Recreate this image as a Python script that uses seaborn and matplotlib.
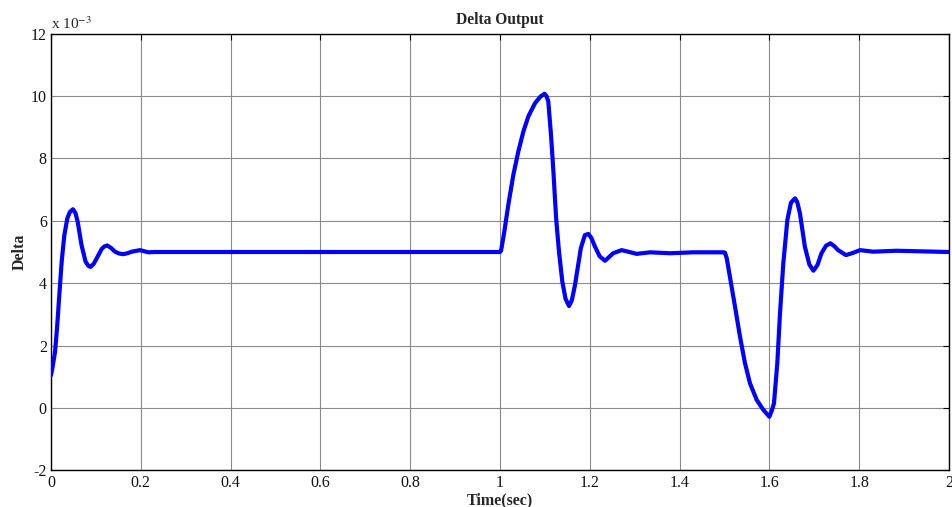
import matplotlib
matplotlib.use("Agg")
import matplotlib.pyplot as plt
import seaborn as sns
import pandas as pd

# Rotor angle deviation (x 10^-3) versus time in seconds
time_s = [
    0.000, 0.003, 0.009, 0.0134, 0.0185, 0.0238, 0.0297, 0.0364, 0.0423, 0.049,
    0.0545, 0.0594, 0.068, 0.077, 0.083, 0.088, 0.095, 0.102, 0.113, 0.119,
    0.125, 0.133, 0.1425, 0.152, 0.161, 0.170, 0.180, 0.198, 0.217, 0.230,
    1.000, 1.0025, 1.0096, 1.0185, 1.0297, 1.0408, 1.052, 1.063, 1.078, 1.090,
    1.099, 1.1035, 1.1076, 1.1136, 1.119, 1.125, 1.1314, 1.1388, 1.146, 1.1537,
    1.160, 1.167, 1.180, 1.189, 1.1967, 1.2035, 1.2116, 1.222, 1.234, 1.252,
    1.271, 1.288, 1.3044, 1.334, 1.3786, 1.4305, 1.497, 1.501, 1.505, 1.512,
    1.5234, 1.5345, 1.5457, 1.5568, 1.5717, 1.586, 1.5998, 1.6050,
    1.6102, 1.6176, 1.6236, 1.631, 1.640, 1.648, 1.657, 1.662, 1.668, 1.679,
    1.689, 1.698, 1.707, 1.716, 1.726, 1.736, 1.745, 1.753, 1.7706, 1.786,
    1.8018, 1.831, 1.883, 2.000,
]
delta = [
    1.05, 1.27, 1.80, 2.55, 3.62, 4.69, 5.54, 6.08, 6.29, 6.37,
    6.25, 5.97, 5.22, 4.69, 4.56, 4.52, 4.62, 4.80, 5.10, 5.18,
    5.21, 5.14, 5.01, 4.95, 4.93, 4.96, 5.01, 5.06, 4.99, 5.00,
    5.00, 5.05, 5.65, 6.51, 7.47, 8.22, 8.86, 9.34, 9.77, 9.98,
    10.07, 10.00, 9.82, 8.75, 7.57, 6.08, 5.01, 4.05, 3.50, 3.27,
    3.45, 3.94, 5.12, 5.54, 5.58, 5.45, 5.17, 4.86, 4.72, 4.96,
    5.06, 5.00, 4.94, 4.99, 4.96, 4.99, 4.99, 4.98, 4.80, 4.21,
    3.25, 2.29, 1.43, 0.79, 0.26, -0.05, -0.28, -0.10,
    0.15, 1.43, 3.03, 4.64, 6.03, 6.58, 6.72, 6.60, 6.24, 5.17,
    4.60, 4.40, 4.58, 4.96, 5.20, 5.28, 5.18, 5.06, 4.90, 4.97,
    5.06, 5.01, 5.04, 5.00,
]

x_ticks = [0, 0.2, 0.4, 0.6, 0.8, 1, 1.2, 1.4, 1.6, 1.8, 2]
x_tick_labels = ["0", "0.2", "0.4", "0.6", "0.8", "1", "1.2", "1.4", "1.6", "1.8", "2"]
y_ticks = [-2, 0, 2, 4, 6, 8, 10, 12]
y_tick_labels = ["-2", "0", "2", "4", "6", "8", "10", "12"]

df = pd.DataFrame({"Time(sec)": time_s, "Delta": delta})

sns.set_style("white")
plt.rcParams["font.family"] = ["Liberation Serif", "DejaVu Serif"]
plt.rcParams["mathtext.fontset"] = "stix"

fig = plt.figure(figsize=(9.52, 5.07), dpi=100)
ax = fig.add_axes([51 / 952, 36.6 / 507, 898 / 952, 436.8 / 507])

sns.lineplot(data=df, x="Time(sec)", y="Delta", ax=ax, color="#0000ff",
             linewidth=3.0, sort=False, estimator=None, zorder=3)

ax.set_xlim(0, 2)
ax.set_ylim(-2, 12)
ax.set_xticks(x_ticks)
ax.set_xticklabels(x_tick_labels)
ax.set_yticks(y_ticks)
ax.set_yticklabels(y_tick_labels)

ax.grid(True, color="#8a8a8a", linewidth=0.8, linestyle="-", zorder=0)
ax.set_axisbelow(True)
for side in ["left", "right", "top", "bottom"]:
    ax.spines[side].set_visible(True)
    ax.spines[side].set_color("black")
    ax.spines[side].set_linewidth(1.0)

ax.tick_params(direction="in", length=4, width=0.8, colors="black",
               labelsize=11.5, top=True, right=True, pad=3)
for lbl in ax.get_xticklabels() + ax.get_yticklabels():
    lbl.set_color("#111111")

ax.set_title("Delta Output", fontsize=11.2, fontweight="bold", pad=7)
ax.set_xlabel("Time(sec)", fontsize=11.5, fontweight="bold", labelpad=1)
ax.set_ylabel("Delta", fontsize=11.5, fontweight="bold", labelpad=2)
ax.text(0.0, 1.004, r"x 10$^{-3}$", transform=ax.transAxes, ha="left",
        va="bottom", fontsize=11)

fig.savefig("out.png", dpi=100)
